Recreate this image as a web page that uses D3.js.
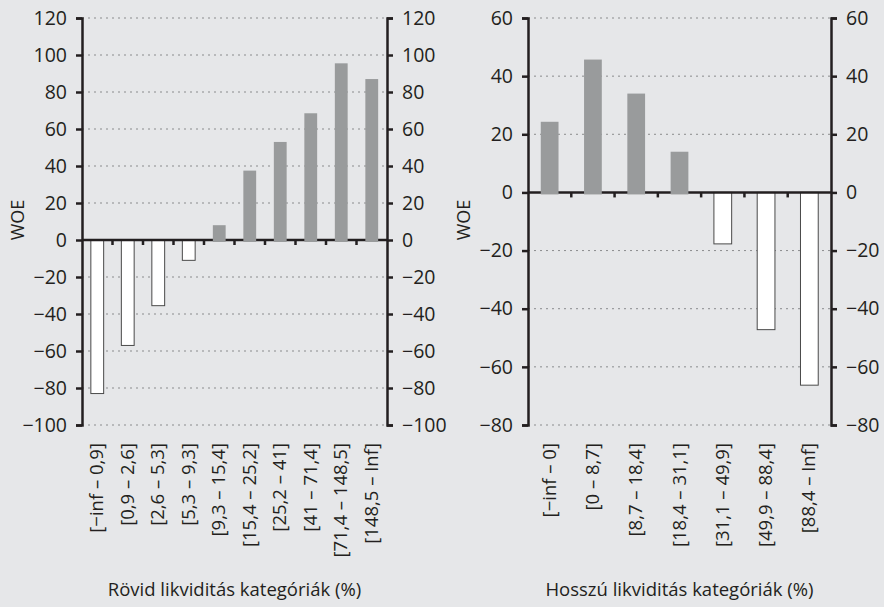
<!DOCTYPE html>
<html>
<head>
<meta charset="utf-8">
<script src="https://cdn.jsdelivr.net/npm/d3@7"></script>
<style>
  body { margin: 0; background: #e6e7e9; }
  svg { display: block; }
  text { font-family: "Open Sans", sans-serif; fill: #231f20; }
</style>
</head>
<body>
<svg id="chart" width="884" height="607"></svg>
<script>
// short liquidity panel
const shortCats = ["[\u2212inf \u2013 0,9]", "[0,9 \u2013 2,6]", "[2,6 \u2013 5,3]", "[5,3 \u2013 9,3]",
  "[9,3 \u2013 15,4]", "[15,4 \u2013 25,2]", "[25,2 \u2013 41]", "[41 \u2013 71,4]",
  "[71,4 \u2013 148,5]", "[148,5 \u2013 Inf]"];
const shortWoe = [-83, -57, -35.5, -11, 8, 37.5, 53, 68.5, 95.5, 87];
const shortTicks = [120, 100, 80, 60, 40, 20, 0, -20, -40, -60, -80, -100];
const shortTitle = "R\u00f6vid likvidit\u00e1s kateg\u00f3ri\u00e1k (%)";

// long liquidity panel
const longCats = ["[\u2212inf \u2013 0]", "[0 \u2013 8,7]", "[8,7 \u2013 18,4]", "[18,4 \u2013 31,1]",
  "[31,1 \u2013 49,9]", "[49,9 \u2013 88,4]", "[88,4 \u2013 Inf]"];
const longWoe = [24.3, 45.7, 34, 14, -17.7, -47.2, -66.3];
const longTicks = [60, 40, 20, 0, -20, -40, -60, -80];
const longTitle = "Hossz\u00fa likvidit\u00e1s kateg\u00f3ri\u00e1k (%)";

const svg = d3.select("#chart");
const plotTop = 18, plotBottom = 425;

function panel(cats, vals, ticks, title, x0, x1, barFrac) {
    const g = svg.append("g");
    const x = d3.scaleBand().domain(cats).range([x0, x1]).paddingInner(0).paddingOuter(0);
    const y = d3.scaleLinear().domain([d3.min(ticks), d3.max(ticks)]).range([plotBottom, plotTop]);
    const line = "#231f20";

    // dotted gridlines
    g.selectAll(".grid")
        .data(ticks.filter(t => t != 0))
        .enter().append("line")
        .attr("x1", x0).attr("x2", x1)
        .attr("y1", d => y(d)).attr("y2", d => y(d))
        .attr("stroke", "#8a8b8d")
        .attr("stroke-width", 1)
        .attr("stroke-dasharray", "2,4");

    const bw = x.bandwidth() * barFrac;

    // negative bars (white)
    g.selectAll(".neg")
        .data(vals.map((v, i) => ({ v: v, c: cats[i] })).filter(d => d.v < 0))
        .enter().append("rect")
        .attr("x", d => x(d.c) + (x.bandwidth() - bw) / 2)
        .attr("y", y(0))
        .attr("width", bw)
        .attr("height", d => y(d.v) - y(0))
        .attr("fill", "#fff")
        .attr("stroke", "#4a4a4a")
        .attr("stroke-width", 1);

    // zero line + ticks at band boundaries
    g.append("line")
        .attr("x1", x0).attr("x2", x1)
        .attr("y1", y(0)).attr("y2", y(0))
        .attr("stroke", line).attr("stroke-width", 2.5);
    g.selectAll(".ctick")
        .data(cats.slice(1))
        .enter().append("line")
        .attr("x1", d => x(d)).attr("x2", d => x(d))
        .attr("y1", y(0)).attr("y2", y(0) + 5)
        .attr("stroke", line).attr("stroke-width", 2.5);

    // positive bars (gray)
    g.selectAll(".pos")
        .data(vals.map((v, i) => ({ v: v, c: cats[i] })).filter(d => d.v >= 0))
        .enter().append("rect")
        .attr("x", d => x(d.c) + (x.bandwidth() - bw) / 2)
        .attr("y", d => y(d.v))
        .attr("width", bw)
        .attr("height", d => y(0) - y(d.v) + 2)
        .attr("fill", "#999b9c");

    // left and right axes
    const fmt = d => d < 0 ? "\u2212" + Math.abs(d) : String(d);
    const left = g.append("g").attr("transform", `translate(${x0},0)`)
        .call(d3.axisLeft(y).tickValues(ticks).tickFormat(fmt).tickSize(6).tickPadding(9));
    const right = g.append("g").attr("transform", `translate(${x1},0)`)
        .call(d3.axisRight(y).tickValues(ticks).tickFormat(fmt).tickSize(6).tickPadding(9));
    [left, right].forEach(a => {
        a.select(".domain").attr("stroke", line).attr("stroke-width", 2.5);
        a.selectAll(".tick line").attr("stroke", line).attr("stroke-width", 2.5);
        a.selectAll(".tick text").style("font-family", "'Open Sans', sans-serif")
            .style("font-size", "19.5px").attr("fill", "#231f20");
    });

    // rotated category labels
    g.selectAll(".clabel")
        .data(cats)
        .enter().append("text")
        .attr("transform", d => `translate(${x(d) + x.bandwidth() / 2 + 6},443) rotate(-90)`)
        .attr("text-anchor", "end")
        .style("font-size", "18.5px")
        .text(d => d);

    // axis titles
    g.append("text")
        .attr("transform", `translate(${x0 - 58},220) rotate(-90)`)
        .attr("text-anchor", "middle")
        .style("font-size", "18px")
        .text("WOE");
    g.append("text")
        .attr("x", (x0 + x1) / 2).attr("y", 596)
        .attr("text-anchor", "middle")
        .style("font-size", "18.5px")
        .text(title);
}

panel(shortCats, shortWoe, shortTicks, shortTitle, 82, 387, 0.42);
panel(longCats, longWoe, longTicks, longTitle, 528, 831, 0.41);
</script>
</body>
</html>
